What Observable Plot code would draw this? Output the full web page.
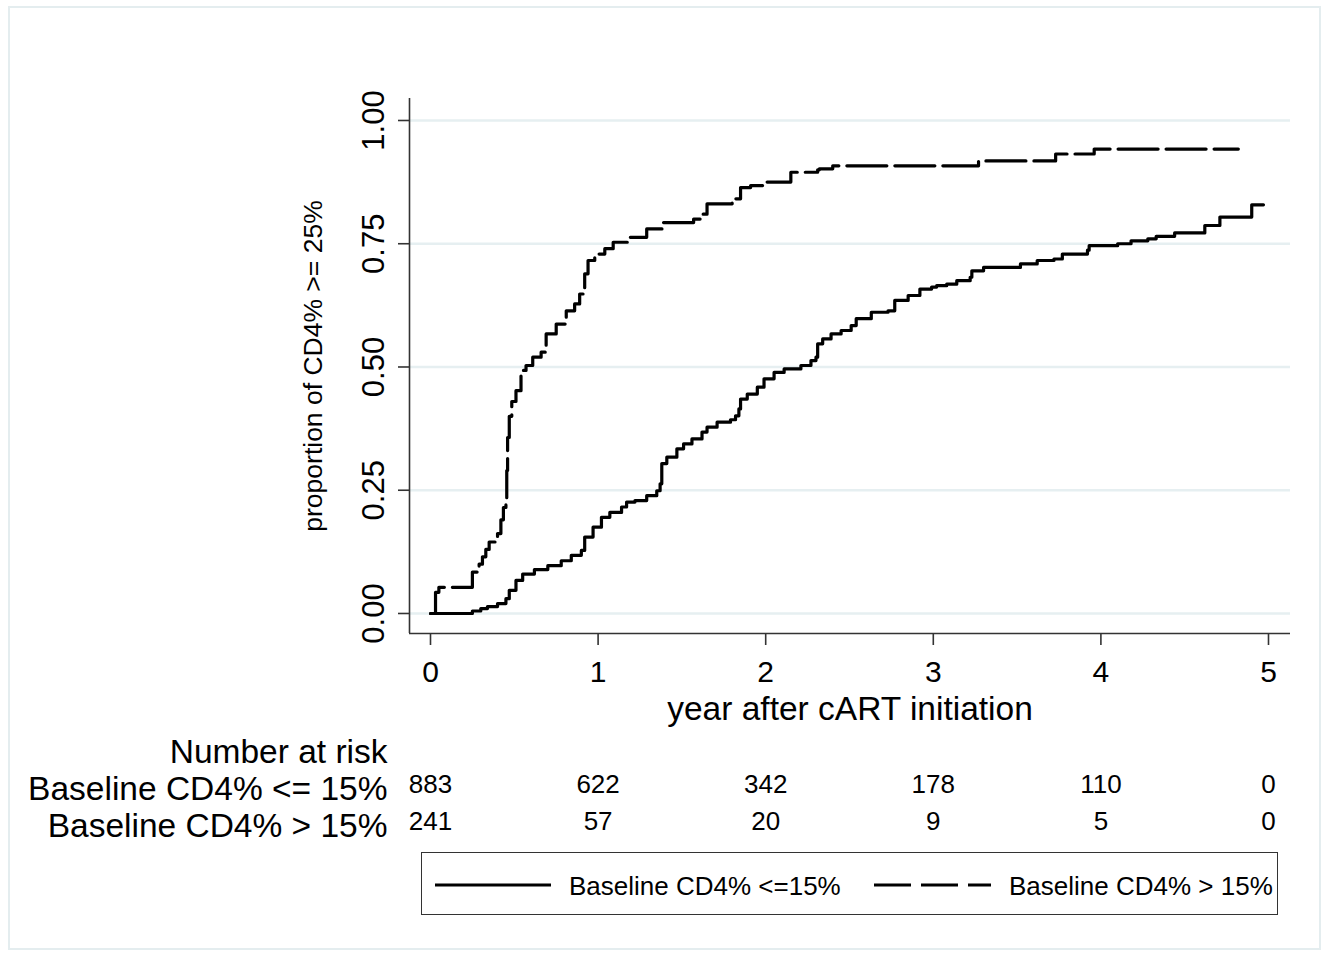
<!DOCTYPE html>
<html>
<head>
<meta charset="utf-8">
<script src="https://cdn.jsdelivr.net/npm/d3@7"></script>
<script src="https://cdn.jsdelivr.net/npm/@observablehq/plot@0.6"></script>
<style>
  html, body { margin: 0; padding: 0; background: #fff; }
  #wrap { position: relative; width: 1329px; height: 956px; overflow: hidden; font-family: "Liberation Sans", Arial, Helvetica, sans-serif; }
  #border { position: absolute; left: 8px; top: 6px; width: 1313px; height: 944px; border: 2.5px solid #e4edef; box-sizing: border-box; }
  #chart { position: absolute; left: 0; top: 0; }
  #legend { position: absolute; left: 421px; top: 852px; width: 857px; height: 63px; border: 1.5px solid #333; box-sizing: border-box; background: #fff; }
  #legend svg { position: absolute; left: 0; top: 0; }
</style>
</head>
<body>
<div id="wrap">
  <div id="border"></div>
  <div id="chart"></div>
  <div id="legend"></div>
</div>
<script>
// ---- data ----
const seriesNames = ["Baseline CD4% <=15%", "Baseline CD4% > 15%"];

// Baseline CD4% <= 15% (solid)
const lowT = [0, 0.25, 0.30, 0.34, 0.40, 0.45, 0.47, 0.51, 0.55, 0.62, 0.70, 0.78, 0.84, 0.90, 0.92, 0.97, 1.02, 1.07, 1.14, 1.17, 1.22, 1.29, 1.35, 1.37, 1.38, 1.41, 1.47, 1.51, 1.56, 1.62, 1.65, 1.71, 1.79, 1.82, 1.84, 1.85, 1.89, 1.95, 1.99, 2.05, 2.11, 2.21, 2.27, 2.30, 2.31, 2.34, 2.39, 2.45, 2.51, 2.54, 2.63, 2.73, 2.77, 2.85, 2.92, 2.99, 3.02, 3.08, 3.14, 3.22, 3.23, 3.30, 3.52, 3.62, 3.72, 3.77, 3.92, 3.93, 4.10, 4.18, 4.28, 4.33, 4.44, 4.62, 4.71, 4.90, 4.97];
const lowP = [0, 0.005, 0.010, 0.014, 0.020, 0.030, 0.047, 0.067, 0.080, 0.089, 0.097, 0.107, 0.118, 0.128, 0.155, 0.175, 0.195, 0.205, 0.216, 0.226, 0.229, 0.239, 0.249, 0.263, 0.304, 0.317, 0.334, 0.344, 0.354, 0.368, 0.378, 0.388, 0.393, 0.401, 0.415, 0.435, 0.445, 0.459, 0.476, 0.489, 0.496, 0.503, 0.513, 0.520, 0.547, 0.557, 0.567, 0.574, 0.584, 0.598, 0.611, 0.614, 0.635, 0.645, 0.658, 0.662, 0.665, 0.668, 0.675, 0.682, 0.695, 0.702, 0.709, 0.716, 0.719, 0.729, 0.737, 0.746, 0.750, 0.756, 0.760, 0.765, 0.772, 0.787, 0.804, 0.829, 0.829];

// Baseline CD4% > 15% (dashed)
const highT = [0, 0.03, 0.05, 0.25, 0.29, 0.31, 0.33, 0.35, 0.40, 0.42, 0.435, 0.45, 0.455, 0.46, 0.47, 0.485, 0.51, 0.54, 0.57, 0.61, 0.66, 0.69, 0.75, 0.81, 0.86, 0.89, 0.92, 0.94, 0.98, 1.04, 1.09, 1.19, 1.29, 1.39, 1.57, 1.61, 1.65, 1.80, 1.85, 1.91, 1.99, 2.15, 2.31, 2.32, 2.40, 3.27, 3.73, 3.96, 4.82];
const highP = [0, 0.043, 0.053, 0.084, 0.100, 0.115, 0.130, 0.145, 0.162, 0.190, 0.215, 0.230, 0.290, 0.357, 0.400, 0.430, 0.452, 0.493, 0.503, 0.520, 0.530, 0.567, 0.587, 0.614, 0.628, 0.648, 0.689, 0.716, 0.729, 0.740, 0.753, 0.763, 0.780, 0.793, 0.800, 0.810, 0.831, 0.841, 0.864, 0.868, 0.875, 0.895, 0.900, 0.902, 0.908, 0.918, 0.932, 0.942, 0.942];

const xTicks = [0, 1, 2, 3, 4, 5];
const yTicks = [0, 0.25, 0.5, 0.75, 1];
const riskTimes = [0, 1, 2, 3, 4, 5];
const riskLow = [883, 622, 342, 178, 110, 0];
const riskHigh = [241, 57, 20, 9, 5, 0];
const riskTitle = "Number at risk";
const riskLabels = ["Baseline CD4% <= 15%", "Baseline CD4% > 15%"];
const xLabel = "year after cART initiation";
const yLabel = "proportion of CD4% >= 25%";

// ---- build tables ----
const low = lowT.map((t, i) => ({t, p: lowP[i]}));
const high = highT.map((t, i) => ({t, p: highP[i]}));
const riskRows = riskTimes.map((t, i) => ({t, low: String(riskLow[i]), high: String(riskHigh[i])}));

const FONT = '"Liberation Sans", Arial, Helvetica, sans-serif';
const AX = "#333";

const chart = Plot.plot({
  width: 1329,
  height: 956,
  marginLeft: 409,
  marginRight: 39,
  marginTop: 98,
  marginBottom: 323,
  style: {fontFamily: FONT, color: "#000", background: "transparent", overflow: "visible"},
  x: {domain: [-0.1253, 5.1313]},
  y: {domain: [-0.0406, 1.0446]},
  marks: [
    Plot.gridY(yTicks, {stroke: "#e6eff1", strokeOpacity: 1, strokeWidth: 2.5}),
    Plot.ruleX([-0.1253], {stroke: AX, strokeWidth: 1.6}),
    Plot.ruleY([-0.0406], {stroke: AX, strokeWidth: 1.6}),
    Plot.axisX({ticks: xTicks, tickSize: 12, tickPadding: 15, fontSize: 30, stroke: AX, strokeWidth: 1.6, label: null, tickFormat: d => String(d)}),
    Plot.axisY({ticks: yTicks, tickSize: 11, tickPadding: 15, tickRotate: -90, fontSize: 31, stroke: AX, strokeWidth: 1.6, label: null, tickFormat: d3.format(".2f")}),
    Plot.text([xLabel], {frameAnchor: "bottom", dy: 86, lineAnchor: "bottom", fontSize: 33.5, fill: "#000", text: d => d}),
    Plot.text([yLabel], {frameAnchor: "left", dx: -88, rotate: -90, lineAnchor: "bottom", textAnchor: "middle", fontSize: 26.5, fill: "#000", text: d => d}),
    Plot.line(low, {x: "t", y: "p", curve: "step-after", stroke: "#000", strokeWidth: 3.2}),
    Plot.line(high, {x: "t", y: "p", curve: "step-after", stroke: "#000", strokeWidth: 3.2, strokeDasharray: "40,8"}),
    // number at risk table
    Plot.text([riskTitle], {frameAnchor: "bottom-left", dx: -22, dy: 129, textAnchor: "end", lineAnchor: "bottom", fontSize: 33.5, fill: "#000", text: d => d}),
    Plot.text([riskLabels[0]], {frameAnchor: "bottom-left", dx: -22, dy: 166, textAnchor: "end", lineAnchor: "bottom", fontSize: 33.5, fill: "#000", text: d => d}),
    Plot.text([riskLabels[1]], {frameAnchor: "bottom-left", dx: -22, dy: 203, textAnchor: "end", lineAnchor: "bottom", fontSize: 33.5, fill: "#000", text: d => d}),
    Plot.text(riskRows, {x: "t", text: "low", frameAnchor: "bottom", dy: 159, lineAnchor: "bottom", fontSize: 26, fill: "#000"}),
    Plot.text(riskRows, {x: "t", text: "high", frameAnchor: "bottom", dy: 196, lineAnchor: "bottom", fontSize: 26, fill: "#000"})
  ]
});
document.getElementById("chart").appendChild(chart);

// ---- legend (below the plot area) ----
const leg = d3.select("#legend").append("svg").attr("width", 857).attr("height", 63)
  .style("font-family", FONT);
const items = [
  {x1: 13, x2: 129, tx: 147, dash: null, label: seriesNames[0]},
  {x1: 452, x2: 569, tx: 587, dash: "37,10", label: seriesNames[1]}
];
for (const it of items) {
  leg.append("line").attr("x1", it.x1).attr("x2", it.x2).attr("y1", 32).attr("y2", 32)
    .attr("stroke", "#000").attr("stroke-width", 3.2).attr("stroke-dasharray", it.dash);
  leg.append("text").attr("x", it.tx).attr("y", 42).attr("font-size", 26).attr("fill", "#000").text(it.label);
}
</script>
</body>
</html>
